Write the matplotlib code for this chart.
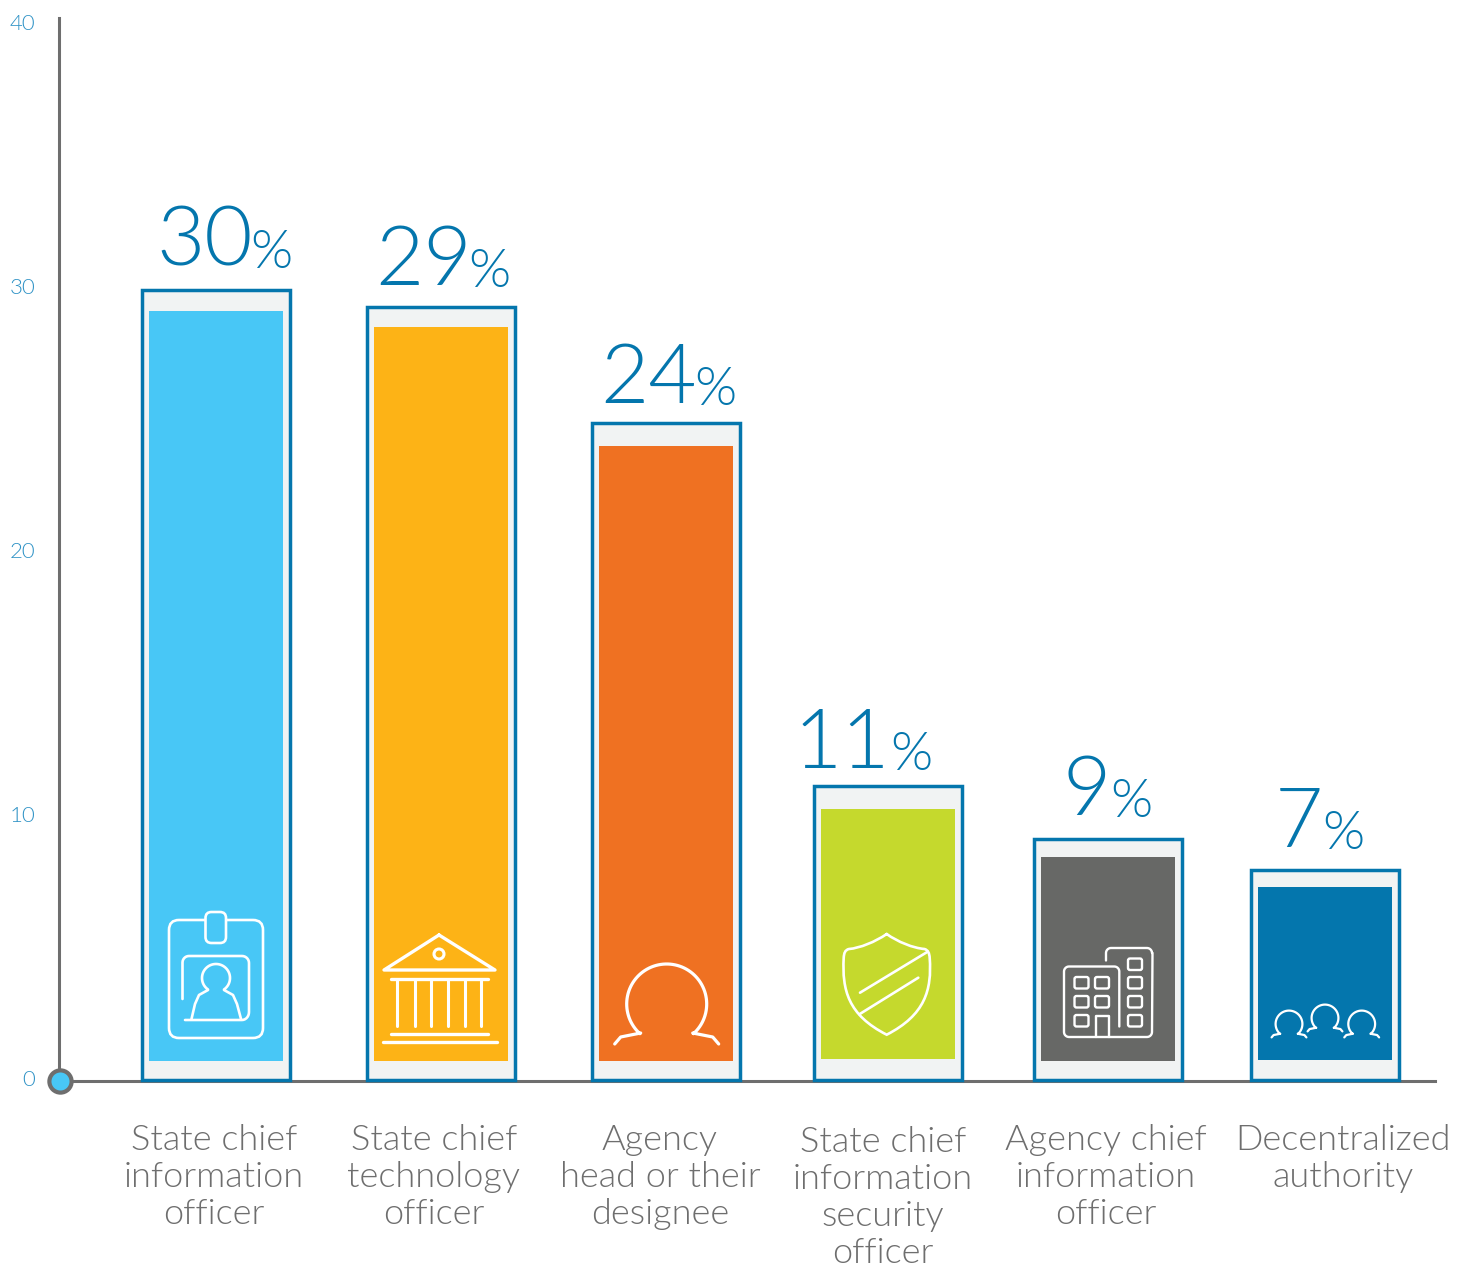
import matplotlib

matplotlib.use("Agg")

import matplotlib.pyplot as plt
import numpy as np
from matplotlib import font_manager as fm
from matplotlib.patches import Circle, FancyBboxPatch, PathPatch
from matplotlib.path import Path
from matplotlib.transforms import Affine2D, ScaledTranslation

# values as printed, then the frame and inner bar heights
shown_values = [30, 29, 24, 11, 9, 7]
frame_heights = [29.93, 29.28, 24.92, 11.14, 9.14, 7.98]
inner_tops = [29.17, 28.56, 24.05, 10.3, 8.48, 7.35]
inner_bases = [0.76, 0.76, 0.76, 0.83, 0.76, 0.8]
y_ticks = [0, 10, 20, 30, 40]
categories = [
    "State chief\ninformation\nofficer",
    "State chief\ntechnology\nofficer",
    "Agency\nhead or their\ndesignee",
    "State chief\ninformation\nsecurity\nofficer",
    "Agency chief\ninformation\nofficer",
    "Decentralized\nauthority",
]

# layout, in pixels of the final image
W, H = 1468, 1267
Y0 = 1081
PX_PER_UNIT = 26.4
bar_x = [216, 441, 666, 888, 1108, 1325]
label_x = [214, 434, 660, 883, 1106, 1343]
label_top = [1124, 1124, 1124, 1126, 1124, 1124]
num_right = [253, 472, 697, 890, 1111, 1323]
pct_left = [250, 468, 694, 890, 1110, 1322]
pct_base = [266, 285, 403, 768, 815, 847]
inner_colors = ["#48c7f6", "#fdb316", "#ef7122", "#c5d92d", "#676866", "#0476ad"]
BLUE = "#0476ad"
GREY = "#6e6e6e"

# Lato Light if it is there, matplotlib's weight matching lands on Hairline
light = [f.fname for f in fm.fontManager.ttflist if "Lato-Light." in f.fname]
if light:
    fp = lambda size: fm.FontProperties(fname=light[0], size=size)
else:
    fp = lambda size: fm.FontProperties(family="Lato", size=size)

fig = plt.figure(figsize=(W / 100, H / 100), dpi=100)
ax = fig.add_axes([0, 0, 1, 1])
ax.set_xlim(0, W)
ax.set_ylim(-(H - Y0) / PX_PER_UNIT, Y0 / PX_PER_UNIT)

# y pointing down, so icons can be written in image pixels
pix = Affine2D().scale(1, -1).translate(0, H)

for s in ["top", "right"]:
    ax.spines[s].set_visible(False)
ax.spines["left"].set_position(("data", 59))
ax.spines["bottom"].set_position(("data", 0))
ax.spines["left"].set_bounds(0, 40.25)
ax.spines["bottom"].set_bounds(59, 1435)
for s in ["left", "bottom"]:
    ax.spines[s].set_color(GREY)
    ax.spines[s].set_linewidth(2.2)
ax.set_xticks([])
ax.set_yticks(y_ticks)
ax.tick_params(axis="y", length=0, pad=17, labelcolor="#3093c6")
for lab in ax.get_yticklabels():
    lab.set_fontproperties(fp(16))
    lab.set_transform(lab.get_transform() + ScaledTranslation(0, 3 / 100, fig.dpi_scale_trans))

ax.bar(bar_x, frame_heights, width=148.5, bottom=0.02, color="#f1f3f3", edgecolor=BLUE, linewidth=2.5, zorder=3)
ax.bar(bar_x, np.array(inner_tops) - np.array(inner_bases), width=134, bottom=inner_bases, color=inner_colors, zorder=4)

ax.plot([59.5], [0], "o", ms=16, mfc="#48c7f6", mec=GREY, mew=3, clip_on=False, zorder=6)

for val, nx, px, by in zip(shown_values, num_right, pct_left, pct_base):
    ax.text(nx, by, str(val), transform=pix, ha="right", va="baseline", color=BLUE, fontproperties=fp(60))
    ax.text(px, by + 2, "%", transform=pix, ha="left", va="baseline", color=BLUE, fontproperties=fp(39))

for text, lx, ty in zip(categories, label_x, label_top):
    ax.text(lx, ty, text, transform=pix, ha="center", va="top", color=GREY,
            fontproperties=fp(26), linespacing=1.19)


# icons
def line(pts, lw=1.9):
    pts = np.array(pts)
    ax.plot(pts[:, 0], pts[:, 1], color="white", lw=lw, transform=pix, zorder=5,
            solid_capstyle="round", solid_joinstyle="round")


def curve(verts, codes, lw=1.9):
    ax.add_patch(PathPatch(Path(verts, codes), fc="none", ec="white", lw=lw, transform=pix, zorder=5, capstyle="round"))


def box(x0, y0, x1, y1, r, lw=1.9, fc="none"):
    ax.add_patch(FancyBboxPatch((x0 + r, y0 + r), x1 - x0 - 2 * r, y1 - y0 - 2 * r,
                                boxstyle=f"round,pad={r},rounding_size={r}", fc=fc, ec="white", lw=lw,
                                transform=pix, zorder=5))


def person(cx, cy, s, lw=2.2):
    a = np.radians(np.linspace(228, -48, 80))
    xs = cx + 40 * s * np.cos(a)
    ys = cy - 40 * s * np.sin(a)
    left = [(cx - 52 * s, cy + 40 * s), (cx - 46 * s, cy + 33 * s), (cx - 26 * s, cy + 29 * s)]
    right = [(cx + 26 * s, cy + 29 * s), (cx + 46 * s, cy + 33 * s), (cx + 52 * s, cy + 40 * s)]
    line(left + list(zip(xs, ys)) + right, lw)


# badge
box(169, 920, 263, 1038, 10)
box(205.5, 912, 226, 943, 6, fc=inner_colors[0])
a = np.radians(np.linspace(0, 90, 8))
line([(182.5, 999), (182.5, 963)] + [(189 - 6.5 * np.cos(t), 962.5 - 6.5 * np.sin(t)) for t in a]
     + [(242 + 7 * np.sin(t), 963 - 7 * np.cos(t)) for t in a]
     + [(249 + 7 * (np.cos(t) - 1), 1012 + 8 * np.sin(t)) for t in a] + [(185, 1020)])
a = np.radians(np.linspace(235, -55, 50))
line([(191.5, 1019), (195, 1004), (199, 995), (208, 990)] + [(216 + 14 * np.cos(t), 978 - 14 * np.sin(t)) for t in a]
     + [(224, 990), (233, 995), (237, 1004), (241, 1019)])

# bank
line([(439, 935), (384, 970), (495, 970), (439, 935)], 2.4)
ax.add_patch(Circle((439, 954), 5, fc="none", ec="white", lw=2.2, transform=pix, zorder=5))
line([(391, 979), (488, 979)], 2.4)
line([(391, 1034), (488, 1034)], 2.4)
line([(382.5, 1041.5), (496.5, 1041.5)], 2.4)
for cx in [397, 414.5, 431, 447.6, 464.5, 481.4]:
    line([(cx, 979), (cx, 1026)], 2.2)

# shield
M, C = Path.MOVETO, Path.CURVE4
curve([(886.7, 934), (875, 942), (860, 948), (849, 949), (845, 950), (844, 953), (843.7, 958),
       (842, 990), (848, 1015), (886.7, 1034.7), (925, 1015), (932, 990), (929.7, 958),
       (929.4, 953), (928, 950), (924.4, 949), (913, 948), (898, 942), (886.7, 934)],
      [M] + [C] * 18)
line([(860, 992.7), (927.7, 951.7)])
line([(859.3, 1014.3), (918.3, 977.7)])

# building
a = np.radians(np.linspace(0, 90, 8))
line([(1119.3, 1026.5), (1119.3, 972)] + [(1119.3 - 5 + 5 * np.cos(t), 971.5 - 5 * np.sin(t)) for t in a]
     + [(1069, 966.5)] + [(1069 - 5 * np.sin(t), 971.5 - 5 * np.cos(t)) for t in a]
     + [(1064, 1032)] + [(1069 - 5 * np.cos(t), 1032 + 5 * np.sin(t)) for t in a]
     + [(1147, 1037)] + [(1147 + 5 * np.sin(t), 1032 + 5 * np.cos(t)) for t in a]
     + [(1152.5, 953)] + [(1147 + 5 * np.cos(t), 953 - 5 * np.sin(t)) for t in a]
     + [(1111, 948)] + [(1111 - 5 * np.sin(t), 953 - 5 * np.cos(t)) for t in a] + [(1106, 960.5)], 1.7)
for wx, wy in [(1074.5, 977), (1095, 977), (1074.5, 996), (1095, 996), (1074.5, 1015),
               (1128, 958.5), (1128, 977), (1128, 996), (1128, 1015)]:
    box(wx, wy, wx + 14, wy + 11.5, 2, 1.7)
line([(1096, 1036.5), (1096, 1016), (1108.5, 1016), (1108.5, 1036.5)], 1.7)

# people
person(666.7, 1004, 1, 2.3)
for px, py in [(1289, 1024), (1325, 1018), (1361.7, 1024)]:
    person(px, py, 0.335, 1.6)

fig.savefig("out.png", dpi=100)
